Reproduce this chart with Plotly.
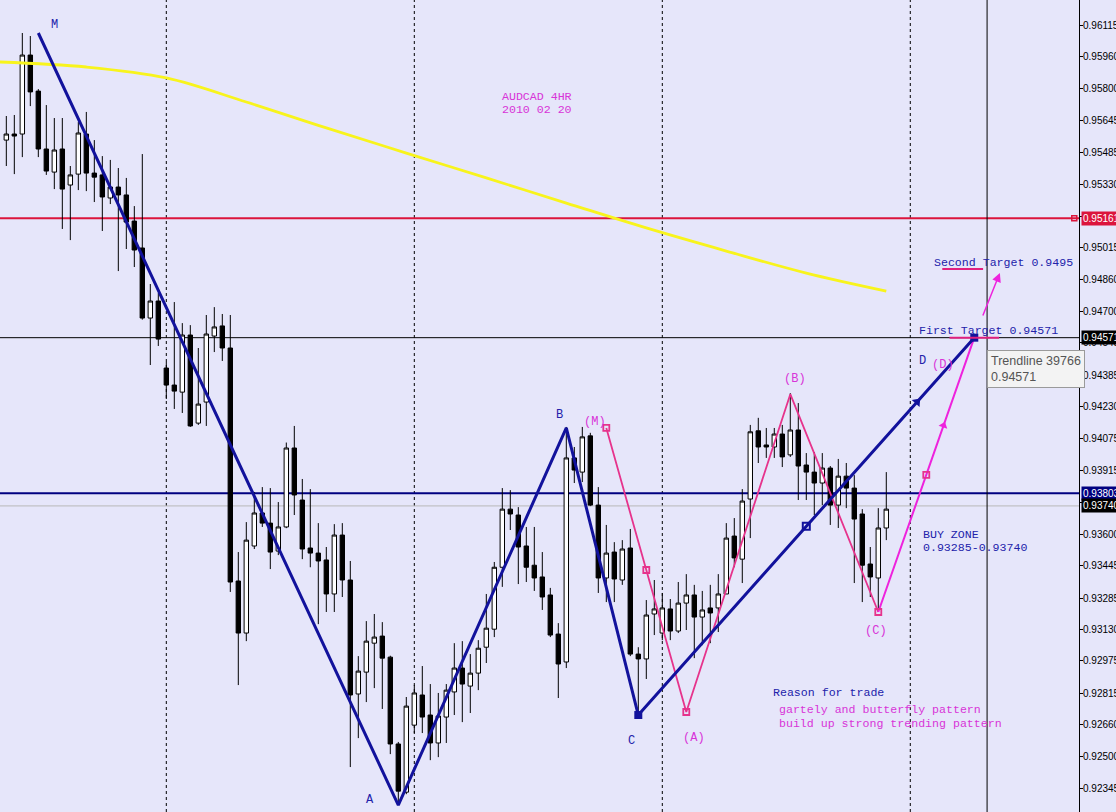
import math
import plotly.graph_objects as go

# ---------------- data ----------------
bar_idx = list(range(111))
opens = [0.95547, 0.95577, 0.95577, 0.95967, 0.95789, 0.95503, 0.95389, 0.95503, 0.95325, 0.95379,
         0.95577, 0.95384, 0.95375, 0.95261, 0.95315, 0.95276, 0.95147, 0.95014, 0.94668, 0.94752,
         0.94421, 0.94337, 0.94302, 0.94584, 0.94149, 0.94253, 0.94579, 0.94629, 0.94520, 0.93369,
         0.93112, 0.93542, 0.93705, 0.93655, 0.93517, 0.93636, 0.94026, 0.93769, 0.93532, 0.93507,
         0.93473, 0.93305, 0.93596, 0.93374, 0.92811, 0.92919, 0.93062, 0.93097, 0.92993, 0.92564,
         0.92326, 0.92657, 0.92806, 0.92707, 0.92569, 0.92697, 0.92821, 0.92939, 0.92850, 0.92914,
         0.93042, 0.93131, 0.93437, 0.93724, 0.93695, 0.93542, 0.93447, 0.93389, 0.93300, 0.93107,
         0.92969, 0.93977, 0.93907, 0.94086, 0.93744, 0.93384, 0.93512, 0.93374, 0.93532, 0.93008,
         0.92984, 0.93206, 0.93112, 0.93231, 0.93122, 0.93260, 0.93300, 0.93191, 0.93236, 0.93236,
         0.93305, 0.93591, 0.93477, 0.93774, 0.94111, 0.94041, 0.94031, 0.94095, 0.93992, 0.94115,
         0.93942, 0.93907, 0.93853, 0.93927, 0.93744, 0.93887, 0.93828, 0.93700, 0.93453, 0.93384,
         0.93631]
highs = [0.95666, 0.95671, 0.96076, 0.96061, 0.95799, 0.95720, 0.95656, 0.95656, 0.95419, 0.95636,
         0.95686, 0.95547, 0.95468, 0.95449, 0.95409, 0.95360, 0.95221, 0.95478, 0.94836, 0.94792,
         0.94451, 0.94747, 0.94643, 0.94633, 0.94520, 0.94683, 0.94722, 0.94688, 0.94683, 0.93512,
         0.93660, 0.93809, 0.93833, 0.93828, 0.93759, 0.94053, 0.94135, 0.93873, 0.93823, 0.93655,
         0.93537, 0.93650, 0.93655, 0.93468, 0.92998, 0.93171, 0.93206, 0.93166, 0.93000, 0.92574,
         0.92796, 0.92855, 0.92949, 0.92860, 0.92816, 0.92860, 0.93062, 0.93072, 0.93008, 0.93077,
         0.93305, 0.93463, 0.93828, 0.93818, 0.93734, 0.93636, 0.93636, 0.93512, 0.93335, 0.93161,
         0.94130, 0.94031, 0.94130, 0.94101, 0.93833, 0.93646, 0.93561, 0.93571, 0.93626, 0.93042,
         0.93275, 0.93374, 0.93310, 0.93280, 0.93364, 0.93403, 0.93350, 0.93320, 0.93350, 0.93403,
         0.93655, 0.93680, 0.93823, 0.94140, 0.94175, 0.94125, 0.94125, 0.94140, 0.94297, 0.94248,
         0.94001, 0.94006, 0.94001, 0.93937, 0.93972, 0.93952, 0.93892, 0.93724, 0.93537, 0.93729,
         0.93907]
lows = [0.95419, 0.95379, 0.95463, 0.95715, 0.95463, 0.95375, 0.95305, 0.95108, 0.95053, 0.95300,
        0.95295, 0.95241, 0.95098, 0.95231, 0.94900, 0.95009, 0.94920, 0.94660, 0.94436, 0.94530,
        0.94268, 0.94219, 0.94199, 0.94130, 0.94140, 0.94135, 0.94500, 0.94456, 0.93315, 0.92855,
        0.93072, 0.93527, 0.93636, 0.93428, 0.93497, 0.93630, 0.93695, 0.93477, 0.93437, 0.93156,
        0.93216, 0.93216, 0.93290, 0.92450, 0.92593, 0.92771, 0.92840, 0.92737, 0.92514, 0.92277,
        0.92316, 0.92618, 0.92618, 0.92484, 0.92499, 0.92569, 0.92707, 0.92672, 0.92717, 0.92830,
        0.92964, 0.93092, 0.93340, 0.93621, 0.93354, 0.93364, 0.93320, 0.93226, 0.93092, 0.92791,
        0.92939, 0.93853, 0.93858, 0.93739, 0.93310, 0.93265, 0.93265, 0.93350, 0.92998, 0.92707,
        0.92885, 0.93102, 0.93077, 0.93077, 0.93112, 0.93127, 0.92988, 0.93052, 0.93062, 0.93117,
        0.93305, 0.93437, 0.93359, 0.93581, 0.93952, 0.93977, 0.93977, 0.93932, 0.93982, 0.93769,
        0.93769, 0.93695, 0.93744, 0.93646, 0.93631, 0.93729, 0.93359, 0.93265, 0.93290, 0.93216,
        0.93571]
closes = [0.95577, 0.95567, 0.95967, 0.95785, 0.95503, 0.95394, 0.95498, 0.95305, 0.95375, 0.95582,
          0.95384, 0.95364, 0.95266, 0.95315, 0.95276, 0.95142, 0.95004, 0.94668, 0.94752, 0.94564,
          0.94337, 0.94307, 0.94584, 0.94135, 0.94243, 0.94589, 0.94624, 0.94520, 0.93364, 0.93112,
          0.93571, 0.93705, 0.93655, 0.93512, 0.93636, 0.94026, 0.93794, 0.93527, 0.93507, 0.93468,
          0.93305, 0.93596, 0.93374, 0.92806, 0.92924, 0.93072, 0.93092, 0.92988, 0.92564, 0.92331,
          0.92751, 0.92816, 0.92697, 0.92569, 0.92702, 0.92830, 0.92939, 0.92860, 0.92914, 0.93037,
          0.93136, 0.93437, 0.93724, 0.93700, 0.93537, 0.93437, 0.93384, 0.93290, 0.93102, 0.92959,
          0.93977, 0.93917, 0.94081, 0.93744, 0.93384, 0.93507, 0.93379, 0.93527, 0.93008, 0.92984,
          0.93201, 0.93231, 0.93236, 0.93122, 0.93260, 0.93300, 0.93191, 0.93226, 0.93211, 0.93305,
          0.93581, 0.93483, 0.93764, 0.94106, 0.94031, 0.94031, 0.94095, 0.93982, 0.94115, 0.93937,
          0.93907, 0.93853, 0.93927, 0.93744, 0.93887, 0.93828, 0.93675, 0.93447, 0.93389, 0.93631,
          0.93724]

# moving average (yellow) read at a few bars
ma_idx = [-1, 10, 20, 30, 40, 50, 60, 70, 80, 90, 100, 110]
ma_vals = [0.95933, 0.95908, 0.95854, 0.95735, 0.95607, 0.95483, 0.95360, 0.95236, 0.95113, 0.94999,
           0.94890, 0.94801]

# blue zig-zag pattern
blue_idx = [4, 49, 70, 79, 121]
blue_vals = [0.96076, 0.92262, 0.94125, 0.92707, 0.94571]
blue_names = ["M", "A", "B", "C", "D"]
blue_label_idx = [6.0, 45.5, 69.2, 78.2, 114.5]
blue_label_val = [0.96115, 0.92287, 0.94189, 0.92578, 0.94456]

# pink pattern
pink_idx = [75, 85, 98, 109, 121]
pink_vals = [0.94125, 0.92722, 0.94292, 0.93216, 0.94571]
pink_names = ["(M)", "(A)", "(B)", "(C)", "(D)"]
pink_label_idx = [73.6, 86.0, 98.6, 108.7, 117.1]
pink_label_val = [0.94154, 0.92593, 0.94367, 0.93122, 0.94436]

# horizontal levels
red_level = 0.95161
first_target = 0.94571
navy_level = 0.93803
silver_level = 0.93740
second_target = 0.9495

separator_idx = [20, 51, 82, 113]
cursor_idx = 122.6

tick_vals = [0.96115, 0.95960, 0.95800, 0.95645, 0.95485, 0.95330, 0.95170, 0.95015, 0.94860, 0.94700,
             0.94545, 0.94385, 0.94230, 0.94075, 0.93915, 0.93755, 0.93600, 0.93445, 0.93285, 0.93130,
             0.92975, 0.92815, 0.92660, 0.92500, 0.92345]
tick_text = ["0.96115", "0.95960", "0.95800", "0.95645", "0.95485", "0.95330", "0.95170", "0.95015",
             "0.94860", "0.94700", "0.94545", "0.94385", "0.94230", "0.94075", "0.93915", "0.93755",
             "0.93600", "0.93445", "0.93285", "0.93130", "0.92975", "0.92815", "0.92660", "0.92500",
             "0.92345"]

# ---------------- styling ----------------
BG = "#E6E6FA"
BLUE_LINE = "#12129c"
BLUE_TXT = "#2222aa"
PINK_LINE = "#e6338c"
MAGENTA = "#ee22dd"
PINK_TXT = "#d834d8"
MONO = "Liberation Mono"
X_RANGE = [-0.79, 134.09]
Y_RANGE = [0.92228, 0.96239]
PX_PER_BAR = 8.0
PX_PER_PRICE = 812.0 / (Y_RANGE[1] - Y_RANGE[0])

fig = go.Figure()

fig.add_trace(go.Candlestick(
    x=bar_idx, open=opens, high=highs, low=lows, close=closes,
    increasing=dict(line=dict(color="black", width=1), fillcolor="white"),
    decreasing=dict(line=dict(color="black", width=1), fillcolor="black"),
    whiskerwidth=0, hoverinfo="skip", showlegend=False))

# yellow MA
fig.add_trace(go.Scatter(x=ma_idx, y=ma_vals, mode="lines",
                         line=dict(color="#f8f41c", width=2.8, shape="spline", smoothing=1.0),
                         hoverinfo="skip", showlegend=False))

# pink pattern legs (M)->(A)->(B)->(C)
fig.add_trace(go.Scatter(x=pink_idx[:4], y=pink_vals[:4], mode="lines",
                         line=dict(color=PINK_LINE, width=1.8), hoverinfo="skip", showlegend=False))
# pink (C)->(D) leg
fig.add_trace(go.Scatter(x=pink_idx[3:], y=pink_vals[3:], mode="lines",
                         line=dict(color=MAGENTA, width=2), hoverinfo="skip", showlegend=False))

# blue zig-zag
fig.add_trace(go.Scatter(x=blue_idx, y=blue_vals, mode="lines",
                         line=dict(color=BLUE_LINE, width=3), hoverinfo="skip", showlegend=False))


def seg_point(i0, v0, i1, v1, t):
    return i0 + (i1 - i0) * t, v0 + (v1 - v0) * t


def seg_angle(i0, v0, i1, v1):
    dx = (i1 - i0) * PX_PER_BAR
    dy = (v1 - v0) * PX_PER_PRICE
    return math.degrees(math.atan2(dx, dy))


# midpoint handles
bm = seg_point(blue_idx[3], blue_vals[3], blue_idx[4], blue_vals[4], 0.5)
pm1 = seg_point(pink_idx[0], pink_vals[0], pink_idx[1], pink_vals[1], 0.5)
pm2 = seg_point(pink_idx[3], pink_vals[3], pink_idx[4], pink_vals[4], 0.5)
fig.add_trace(go.Scatter(x=[bm[0]], y=[bm[1]], mode="markers",
                         marker=dict(symbol="square-open", size=7, color=BLUE_LINE, line=dict(width=2)),
                         hoverinfo="skip", showlegend=False))
fig.add_trace(go.Scatter(x=[blue_idx[3], blue_idx[4]], y=[blue_vals[3], blue_vals[4]], mode="markers",
                         marker=dict(symbol="square", size=8, color=BLUE_LINE),
                         hoverinfo="skip", showlegend=False))
fig.add_trace(go.Scatter(x=[pink_idx[0], pm1[0], pink_idx[1], pink_idx[3], pm2[0]],
                         y=[pink_vals[0], pm1[1], pink_vals[1], pink_vals[3], pm2[1]], mode="markers",
                         marker=dict(symbol="square-open", size=6, color=PINK_LINE, line=dict(width=1.8)),
                         hoverinfo="skip", showlegend=False))

# arrow heads along the C->D legs
ba = seg_point(blue_idx[3], blue_vals[3], blue_idx[4], blue_vals[4], 0.83)
pa = seg_point(pink_idx[3], pink_vals[3], pink_idx[4], pink_vals[4], 0.68)
fig.add_trace(go.Scatter(x=[ba[0]], y=[ba[1]], mode="markers",
                         marker=dict(symbol="triangle-up", size=9, color=BLUE_LINE,
                                     angle=seg_angle(blue_idx[3], blue_vals[3], blue_idx[4], blue_vals[4])),
                         hoverinfo="skip", showlegend=False))
fig.add_trace(go.Scatter(x=[pa[0]], y=[pa[1]], mode="markers",
                         marker=dict(symbol="triangle-up", size=8, color=MAGENTA,
                                     angle=seg_angle(pink_idx[3], pink_vals[3], pink_idx[4], pink_vals[4])),
                         hoverinfo="skip", showlegend=False))

# red line handle at right end
fig.add_trace(go.Scatter(x=[133.5], y=[red_level], mode="markers",
                         marker=dict(symbol="square-open", size=5, color="#DC143C", line=dict(width=1.5)),
                         hoverinfo="skip", showlegend=False))

# ---------------- shapes ----------------
shapes = []
for s in separator_idx:
    shapes.append(dict(type="line", xref="x", yref="paper", x0=s, x1=s, y0=0, y1=1,
                       line=dict(color="black", width=1, dash="3px,3px"), layer="below"))
shapes.append(dict(type="line", xref="x", yref="paper", x0=cursor_idx, x1=cursor_idx, y0=0, y1=1,
                   line=dict(color="black", width=1)))
shapes.append(dict(type="line", xref="paper", yref="y", x0=0, x1=1, y0=red_level, y1=red_level,
                   line=dict(color="#DC143C", width=2), layer="below"))
shapes.append(dict(type="line", xref="paper", yref="y", x0=0, x1=1, y0=first_target, y1=first_target,
                   line=dict(color="black", width=1), layer="below"))
shapes.append(dict(type="line", xref="paper", yref="y", x0=0, x1=1, y0=navy_level, y1=navy_level,
                   line=dict(color="#000080", width=2), layer="below"))
shapes.append(dict(type="line", xref="paper", yref="y", x0=0, x1=1, y0=silver_level, y1=silver_level,
                   line=dict(color="#B8B8B8", width=1), layer="below"))
# short pink marks near the targets
shapes.append(dict(type="line", xref="x", yref="y", x0=117.0, x1=122.1, y0=0.94910, y1=0.94910,
                   line=dict(color="#e0207f", width=2)))
shapes.append(dict(type="line", xref="x", yref="y", x0=117.9, x1=124.1, y0=first_target, y1=first_target,
                   line=dict(color="#e0207f", width=2)))

# ---------------- annotations ----------------
ann = []
for name, xi, yv in zip(blue_names, blue_label_idx, blue_label_val):
    ann.append(dict(x=xi, y=yv, xref="x", yref="y", text=name, showarrow=False,
                    font=dict(family=MONO, size=12, color=BLUE_TXT)))
for name, xi, yv in zip(pink_names, pink_label_idx, pink_label_val):
    ann.append(dict(x=xi, y=yv, xref="x", yref="y", text=name, showarrow=False,
                    font=dict(family=MONO, size=12, color=PINK_TXT)))


def txt(x, y, s, color):
    ann.append(dict(x=x, y=y, xref="x", yref="y", text=s, showarrow=False, xanchor="left",
                    yanchor="middle", borderpad=0, font=dict(family=MONO, size=11.6, color=color)))


txt(61.84, 0.95760, "AUDCAD 4HR", PINK_TXT)
txt(61.84, 0.95696, "2010 02 20", PINK_TXT)
txt(115.84, 0.94940, "Second Target 0.9495", BLUE_TXT)
txt(113.96, 0.94604, "First Target 0.94571", BLUE_TXT)
txt(114.46, 0.93601, "BUY ZONE", BLUE_TXT)
txt(114.46, 0.93537, "0.93285-0.93740", BLUE_TXT)
txt(95.71, 0.92816, "Reason for trade", BLUE_TXT)
txt(96.46, 0.92732, "gartely and butterfly pattern", PINK_TXT)
txt(96.46, 0.92663, "build up strong trending pattern", PINK_TXT)

# arrow toward second target
ann.append(dict(x=124.2, y=0.94891, ax=122.0, ay=0.94673, xref="x", yref="y", axref="x", ayref="y",
                text="", showarrow=True, arrowhead=2, arrowsize=1.2, arrowwidth=1.5, arrowcolor=MAGENTA))

# price label boxes on the axis
for val, bg in [(red_level, "#DC143C"), (first_target, "black"), (navy_level, "#000080"),
                (silver_level, "black")]:
    ann.append(dict(x=1, y=val, xref="paper", yref="y", xanchor="left", yanchor="middle", xshift=2,
                    text=f"{val:.5f}", showarrow=False, bgcolor=bg, borderpad=1,
                    font=dict(family="Liberation Sans", size=10, color="white")))

# tooltip
ann.append(dict(x=987 / 1079, y=1 - 350 / 812, xref="paper", yref="paper", xanchor="left", yanchor="top",
                text="Trendline 39766<br>0.94571", align="left", showarrow=False,
                bgcolor="#F3F3F3", bordercolor="#9A9A9A", borderwidth=1, borderpad=3,
                font=dict(family="Liberation Sans", size=12.5, color="#555555")))

fig.update_layout(
    width=1116, height=812,
    margin=dict(l=0, r=37, t=0, b=0, autoexpand=False),
    paper_bgcolor=BG, plot_bgcolor=BG,
    showlegend=False,
    boxgap=0.45, boxgroupgap=0,
    shapes=shapes, annotations=ann,
    xaxis=dict(range=X_RANGE, showgrid=False, zeroline=False, showticklabels=False, ticks="",
               rangeslider=dict(visible=False), fixedrange=True, automargin=False),
    yaxis=dict(range=Y_RANGE, side="right", showgrid=False, zeroline=False, showline=True,
               linecolor="black", linewidth=1, ticks="outside", ticklen=3, tickcolor="black",
               tickvals=tick_vals, ticktext=tick_text, automargin=False, ticklabelstandoff=-2,
               tickfont=dict(family="Liberation Sans", size=10, color="black"), fixedrange=True),
)

fig.write_html("out.html", config={"displayModeBar": False},
               post_script="document.body.style.margin='0px';document.body.style.overflow='hidden';"
                           "document.body.style.background='" + BG + "';")
